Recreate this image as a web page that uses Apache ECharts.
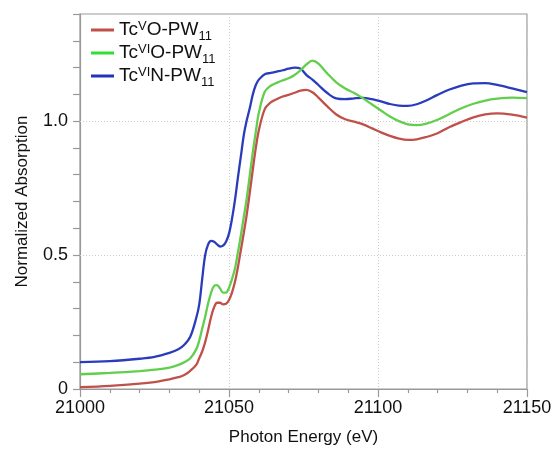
<!DOCTYPE html>
<html>
<head>
<meta charset="utf-8">
<script src="https://cdn.jsdelivr.net/npm/echarts@6/dist/echarts.min.js"></script>
<style>html,body{margin:0;padding:0;background:#fff}#c{width:556px;height:451px}</style>
</head>
<body>
<div id="c"></div>
<script>
var energy = [21000, 21010, 21020, 21025, 21030, 21033, 21035, 21037, 21039, 21040, 21041, 21042, 21043, 21044, 21045, 21046, 21047, 21048, 21049, 21050, 21051, 21052, 21053, 21054, 21055, 21056, 21057, 21058, 21059, 21060, 21062, 21064, 21066, 21068, 21070, 21072, 21074, 21076, 21078, 21080, 21083, 21086, 21089, 21092, 21095, 21098, 21101, 21104, 21107, 21110, 21113, 21116, 21120, 21124, 21128, 21132, 21136, 21140, 21145, 21150];

var tcV_O = [0.007, 0.012, 0.02, 0.026, 0.036, 0.044, 0.052, 0.068, 0.09, 0.115, 0.14, 0.175, 0.22, 0.27, 0.305, 0.322, 0.322, 0.316, 0.318, 0.332, 0.36, 0.40, 0.455, 0.52, 0.585, 0.655, 0.735, 0.82, 0.9, 0.965, 1.045, 1.07, 1.082, 1.092, 1.098, 1.106, 1.114, 1.117, 1.108, 1.088, 1.055, 1.025, 1.007, 0.998, 0.988, 0.973, 0.958, 0.945, 0.935, 0.93, 0.932, 0.94, 0.955, 0.978, 0.997, 1.014, 1.025, 1.029, 1.024, 1.013];

var tcVI_O = [0.055, 0.06, 0.067, 0.072, 0.08, 0.09, 0.1, 0.115, 0.148, 0.18, 0.225, 0.27, 0.32, 0.36, 0.385, 0.388, 0.375, 0.36, 0.36, 0.378, 0.41, 0.45, 0.51, 0.575, 0.645, 0.715, 0.8, 0.885, 0.96, 1.03, 1.11, 1.132, 1.143, 1.152, 1.16, 1.172, 1.19, 1.212, 1.226, 1.215, 1.178, 1.145, 1.122, 1.105, 1.085, 1.062, 1.04, 1.017, 1.0, 0.988, 0.985, 0.99, 1.005, 1.027, 1.048, 1.065, 1.077, 1.084, 1.088, 1.086];

var tcVI_N = [0.1, 0.104, 0.113, 0.12, 0.135, 0.148, 0.165, 0.195, 0.265, 0.315, 0.41, 0.5, 0.54, 0.553, 0.55, 0.54, 0.532, 0.535, 0.55, 0.58, 0.635, 0.705, 0.79, 0.87, 0.95, 1.005, 1.05, 1.1, 1.135, 1.155, 1.175, 1.18, 1.185, 1.19, 1.196, 1.2, 1.196, 1.172, 1.155, 1.135, 1.105, 1.085, 1.082, 1.085, 1.087, 1.082, 1.074, 1.064, 1.058, 1.057, 1.063, 1.076, 1.098, 1.118, 1.133, 1.141, 1.142, 1.135, 1.122, 1.108];

var seriesNames = ['TcV O-PW11', 'TcVI O-PW11', 'TcVI N-PW11'];
var legendRich = {
  'TcV O-PW11': '{m|Tc}{sup|V}{m|O-PW}{sub|11}',
  'TcVI O-PW11': '{m|Tc}{sup|VI}{m|O-PW}{sub|11}',
  'TcVI N-PW11': '{m|Tc}{sup|VI}{m|N-PW}{sub|11}'
};
var colors = ['#c0504a', '#62cf4c', '#2a3cbb'];
var legendColors = ['#c0504a', '#33dd33', '#2233bb'];
var yLabelTicks = [0, 0.5, 1.0];
var gridLinesY = [0.5, 1.0];

function pairs(ys) { return energy.map(function (e, i) { return [e, ys[i]]; }); }

var FONT = 'Liberation Sans';
var chart = echarts.init(document.getElementById('c'), null, { renderer: 'canvas' });
var allY = [tcV_O, tcVI_O, tcVI_N];
var series = seriesNames.map(function (n, i) {
  return {
    name: n, type: 'line', data: pairs(allY[i]), symbol: 'none', smooth: 0.35,
    lineStyle: { color: colors[i], width: 2.3 }, itemStyle: { color: legendColors[i] },
    z: 3 + (2 - i)
  };
});
series[0].markLine = {
  silent: true, symbol: 'none', label: { show: false },
  lineStyle: { color: '#cccccc', type: [1, 2], width: 1 },
  data: gridLinesY.map(function (v) { return { yAxis: v }; }),
  z: 1
};

chart.setOption({
  animation: false,
  backgroundColor: '#ffffff',
  grid: { left: 80, right: 29, top: 14, bottom: 62, show: true, borderColor: '#999', borderWidth: 1.2, backgroundColor: 'transparent' },
  legend: {
    orient: 'vertical', left: 86, top: 15, itemWidth: 23, itemHeight: 3, itemGap: 0,
    icon: 'rect',
    data: seriesNames,
    formatter: function (n) { return legendRich[n]; },
    textStyle: {
      fontFamily: FONT, color: '#111',
      rich: {
        m: { fontSize: 19, fontFamily: FONT, color: '#111', lineHeight: 20 },
        sup: { fontSize: 13, fontFamily: FONT, color: '#111', lineHeight: 12, verticalAlign: 'top', padding: [0, 0, 3, 0] },
        sub: { fontSize: 13, fontFamily: FONT, color: '#111', lineHeight: 12, verticalAlign: 'bottom', padding: [0, 0, -3, 0] }
      }
    }
  },
  xAxis: {
    type: 'value', min: 21000, max: 21150, interval: 50,
    name: 'Photon Energy (eV)', nameLocation: 'middle', nameGap: 40,
    nameTextStyle: { fontFamily: FONT, fontSize: 17, color: '#111' },
    axisLine: { show: true, lineStyle: { color: '#999', width: 1.2 } },
    axisTick: { show: true, length: 8, lineStyle: { color: '#999', width: 1.2 } },
    minorTick: { show: true, splitNumber: 5, length: 4, lineStyle: { color: '#999', width: 1.2 } },
    axisLabel: { fontFamily: FONT, fontSize: 18, color: '#111', margin: 10, formatter: function (v) { return String(v); } },
    splitLine: { show: true, lineStyle: { color: '#cccccc', type: [1, 2], width: 1 } }
  },
  yAxis: {
    type: 'value', min: 0, max: 1.4, interval: 0.1,
    name: 'Normalized Absorption', nameLocation: 'middle', nameGap: 49,
    nameTextStyle: { fontFamily: FONT, fontSize: 17, color: '#111' },
    axisLine: { show: true, lineStyle: { color: '#999', width: 1.2 } },
    axisTick: { show: true, length: 7, lineStyle: { color: '#999', width: 1.2 } },
    axisLabel: {
      fontFamily: FONT, fontSize: 18, color: '#111', margin: 12,
      formatter: function (v) {
        for (var k = 0; k < yLabelTicks.length; k++) {
          if (Math.abs(v - yLabelTicks[k]) < 1e-6) return yLabelTicks[k] === 0 ? '0' : yLabelTicks[k].toFixed(1);
        }
        return '';
      }
    },
    splitLine: { show: false }
  },
  series: series
});
</script>
</body>
</html>
